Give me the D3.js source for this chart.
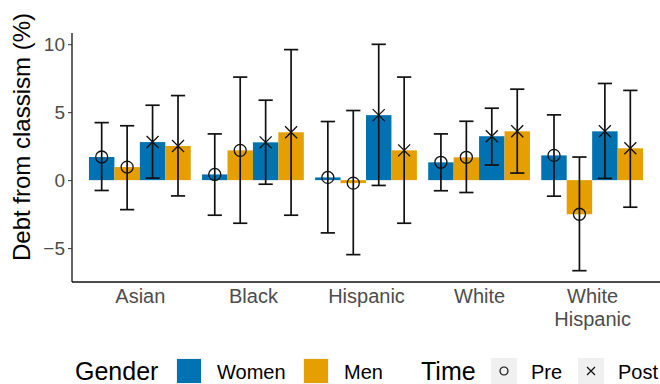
<!DOCTYPE html>
<html><head><meta charset="utf-8">
<script src="https://cdn.jsdelivr.net/npm/d3@7"></script>
<style>body{margin:0;background:#fff}svg{display:block}text{font-family:"Liberation Sans",Arial,sans-serif}</style>
</head><body><svg id="c" width="660" height="384"></svg>
<script>
const categories = ["Asian", "Black", "Hispanic", "White", "White\nHispanic"];
const groups = ["Women-Pre", "Men-Pre", "Women-Post", "Men-Post"];
const genders = ["Women", "Men"];
const times = ["Pre", "Post"];
const womenPre  = [1.70, 0.42, 0.20, 1.31, 1.82];
const menPre    = [0.96, 2.19, -0.22, 1.68, -2.51];
const womenPost = [2.80, 2.78, 4.78, 3.23, 3.59];
const menPost   = [2.51, 3.52, 2.19, 3.59, 2.34];
const womenPreLo  = [-0.76, -2.58, -3.88, -0.78, -1.18];
const womenPreHi  = [4.23, 3.40, 4.31, 3.40, 4.80];
const menPreLo    = [-2.17, -3.17, -5.48, -0.91, -6.66];
const menPreHi    = [4.00, 7.58, 5.12, 4.33, 1.70];
const womenPostLo = [0.15, -0.30, -0.39, 1.11, 0.13];
const womenPostHi = [5.51, 5.88, 9.99, 5.29, 7.11];
const menPostLo   = [-1.16, -2.58, -3.17, 0.52, -1.99];
const menPostHi   = [6.22, 9.60, 7.58, 6.69, 6.60];
const yTicks = [-5, 0, 5, 10];
const colors = {Women: "#0072B2", Men: "#E69F00"};

const series = [
  {g: "Women-Pre", gender: "Women", time: "Pre", v: womenPre, lo: womenPreLo, hi: womenPreHi},
  {g: "Men-Pre", gender: "Men", time: "Pre", v: menPre, lo: menPreLo, hi: menPreHi},
  {g: "Women-Post", gender: "Women", time: "Post", v: womenPost, lo: womenPostLo, hi: womenPostHi},
  {g: "Men-Post", gender: "Men", time: "Post", v: menPost, lo: menPostLo, hi: menPostHi}
];
const rows = [];
series.forEach(s => categories.forEach((c, i) => rows.push({cat: c, g: s.g, gender: s.gender, time: s.time, v: s.v[i], lo: s.lo[i], hi: s.hi[i]})));

const svg = d3.select("#c");
const L = 72, R = 660, T = 33, B = 282;
const allLo = d3.min(rows, d => d.lo), allHi = d3.max(rows, d => d.hi);
const pad = (allHi - allLo) * 0.05;
const y = d3.scaleLinear().domain([allLo - pad, allHi + pad]).range([B, T]);
const x = d3.scalePoint().domain(categories).range([L, R]).padding(0.6);
const step = x.step();
const xi = d3.scaleBand().domain(groups).range([-0.45 * step, 0.45 * step]);
const bw = xi.bandwidth();

const plot = svg.append("g");
plot.selectAll("rect.bar").data(rows).join("rect").attr("class", "bar")
  .attr("x", d => x(d.cat) + xi(d.g))
  .attr("width", bw)
  .attr("y", d => y(Math.max(0, d.v)))
  .attr("height", d => Math.abs(y(d.v) - y(0)))
  .attr("fill", d => colors[d.gender]);

const eb = plot.selectAll("g.eb").data(rows).join("g").attr("class", "eb")
  .attr("transform", d => `translate(${x(d.cat) + xi(d.g) + bw / 2},0)`)
  .attr("stroke", "#111").attr("stroke-width", 1.7).attr("fill", "none");
const cap = bw * 0.28;
eb.append("line").attr("y1", d => y(d.lo)).attr("y2", d => y(d.hi));
eb.append("line").attr("x1", -cap).attr("x2", cap).attr("y1", d => y(d.lo)).attr("y2", d => y(d.lo));
eb.append("line").attr("x1", -cap).attr("x2", cap).attr("y1", d => y(d.hi)).attr("y2", d => y(d.hi));

function drawShape(sel, time, r) {
  if (time === "Pre") sel.append("circle").attr("r", r);
  else sel.append("path").attr("d", `M${-r},${-r}L${r},${r}M${-r},${r}L${r},${-r}`);
}
const pts = plot.selectAll("g.pt").data(rows).join("g").attr("class", "pt")
  .attr("transform", d => `translate(${x(d.cat) + xi(d.g) + bw / 2},${y(d.v)})`)
  .attr("stroke", "#111").attr("stroke-width", 1.3).attr("fill", "none");
pts.each(function(d) { drawShape(d3.select(this), d.time, 6); });

const yAxis = svg.append("g").attr("transform", `translate(${L},0)`)
  .call(d3.axisLeft(y).tickValues(yTicks).tickSize(4).tickPadding(3).tickFormat(d => d < 0 ? "\u2212" + Math.abs(d) : d));
yAxis.select(".domain").attr("d", `M0,${T}V${B}`).attr("stroke", "#111").attr("stroke-width", 1.3);
yAxis.selectAll(".tick line").attr("stroke", "#333");
yAxis.selectAll("text").attr("fill", "#4d4d4d").style("font-size", "19px").attr("dy", "0.35em");

const xAxis = svg.append("g").attr("transform", `translate(0,${B})`)
  .call(d3.axisBottom(x).tickSize(0).tickFormat(""));
xAxis.select(".domain").attr("d", `M${L},0H${R}`).attr("stroke", "#111").attr("stroke-width", 1.3);
xAxis.selectAll(".tick").each(function(d) {
  const t = d3.select(this).append("text").attr("fill", "#4d4d4d").attr("text-anchor", "middle").style("font-size", "20px");
  d.split("\n").forEach((line, i) => t.append("tspan").attr("x", 0).attr("y", 21 + i * 23).text(line));
});

svg.append("text").attr("transform", `translate(30,137) rotate(-90)`).attr("text-anchor", "middle")
  .style("font-size", "24px").attr("fill", "#000").text("Debt from classism (%)");

const leg = svg.append("g");
const ky = 358, ks = 26, ty = 380;
leg.append("text").attr("x", 75).attr("y", ty).style("font-size", "25px").text("Gender");
const gPos = [176, 303];
genders.forEach((g, i) => {
  leg.append("rect").attr("x", gPos[i]).attr("y", ky).attr("width", ks).attr("height", ks).attr("fill", "#f2f2f2");
  leg.append("rect").attr("x", gPos[i] + 1).attr("y", ky + 1).attr("width", ks - 2).attr("height", ks - 2).attr("fill", colors[g]);
  leg.append("text").attr("x", gPos[i] + ks + 15).attr("y", ty - 1).style("font-size", "20px").text(g);
});
leg.append("text").attr("x", 421).attr("y", ty).style("font-size", "25px").text("Time");
const tPos = [491, 578];
times.forEach((t, i) => {
  leg.append("rect").attr("x", tPos[i]).attr("y", ky).attr("width", ks).attr("height", ks).attr("fill", "#f0f0f0");
  const s = leg.append("g").attr("transform", `translate(${tPos[i] + ks / 2},${ky + ks / 2})`)
    .attr("stroke", "#111").attr("stroke-width", 1.2).attr("fill", "none");
  drawShape(s, t, 4);
  leg.append("text").attr("x", tPos[i] + ks + 14).attr("y", ty - 1).style("font-size", "20px").text(t);
});
</script></body></html>
